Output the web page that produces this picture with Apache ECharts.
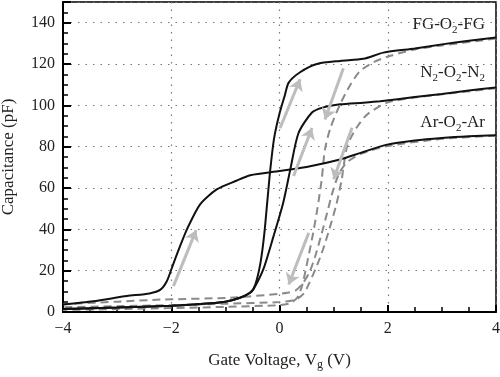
<!DOCTYPE html>
<html>
<head>
<meta charset="utf-8">
<script src="https://cdn.jsdelivr.net/npm/echarts@6/dist/echarts.min.js"></script>
<style>
  html, body { margin: 0; padding: 0; background: #fff; }
  #chart { width: 500px; height: 377px; }
</style>
</head>
<body>
<div id="chart"></div>
<script>
// forward sweeps (black, solid)
const fgUp = [[-4, 1.5], [-3, 2.2], [-2, 3], [-1.6, 3.6], [-1, 5], [-0.73, 6.9], [-0.54, 9.4], [-0.45, 13],
  [-0.35, 24], [-0.28, 38], [-0.22, 55], [-0.17, 69], [-0.1, 84], [0, 96], [0.1, 105], [0.17, 111],
  [0.38, 116], [0.69, 120], [1.12, 121.5], [1.55, 122.5], [1.92, 125.5], [2.5, 127.5], [3, 129.5],
  [3.5, 131.3], [4, 132.8]]
const n2Up = [[-4, 1.5], [-3, 2.2], [-2, 3], [-1.6, 3.6], [-1, 5], [-0.73, 6.9], [-0.54, 9.4], [-0.48, 11],
  [-0.3, 20.6], [-0.11, 36.7], [0.07, 53], [0.2, 69], [0.35, 86.5], [0.6, 96.5], [0.81, 99],
  [1.12, 100.5], [1.55, 101.3], [1.86, 102], [2.5, 104], [3, 105.5], [3.5, 107.2], [4, 108.6]]
const arUp = [[-4, 3.6], [-3.44, 5.2], [-2.82, 7.7], [-2.4, 9], [-2.2, 10.8], [-2.08, 15], [-1.98, 22],
  [-1.85, 31], [-1.71, 40], [-1.47, 52], [-1.16, 59.3], [-0.8, 63.5], [-0.54, 66.2], [0, 68.2],
  [0.5, 70.2], [1.12, 73.8], [1.5, 77], [1.99, 81], [2.5, 83], [3, 84.2], [3.5, 85], [4, 85.5]]

// reverse sweeps (grey, dashed)
const fgDown = [[4, 132.3], [3, 129], [2.5, 127], [2.05, 124], [1.75, 121], [1.49, 116.6], [1.31, 110],
  [1.12, 100.5], [0.94, 89], [0.84, 78.7], [0.78, 64.2], [0.7, 50], [0.62, 38], [0.52, 25],
  [0.42, 13], [0.33, 7], [0.2, 4.3], [0, 3.3], [-1, 2.5], [-2, 1.9], [-3, 1.4], [-4, 1]]
const n2Down = [[4, 108.3], [3, 105.3], [2.5, 103.8], [1.99, 101.3], [1.62, 95.6], [1.42, 89], [1.25, 80.3],
  [1.15, 64.2], [1.05, 52], [0.92, 40], [0.8, 30], [0.7, 23], [0.55, 14], [0.45, 9], [0.3, 6],
  [0, 4.8], [-1, 4], [-2, 3.3], [-3, 2.8], [-4, 2.3]]
const arDown = [[4, 85.3], [3, 83.8], [2, 80.3], [1.5, 76.5], [1.25, 72.5], [1.1, 67], [0.98, 58],
  [0.88, 48], [0.78, 38], [0.66, 27], [0.55, 19], [0.42, 13.5], [0.3, 10.5], [0.14, 9.3],
  [0, 8.8], [-0.91, 6.9], [-2.2, 6], [-3, 5], [-4, 3.8]]

// arrows: [x0, y0, x1, y1]
const arrows = [[-1.96, 12.5, -1.54, 39.6], [0.01, 89, 0.38, 112.6], [0.26, 65.8, 0.6, 89],
  [1.18, 118, 0.84, 93.2], [1.34, 89.2, 1.0, 64.2], [0.54, 38.3, 0.17, 13.3]]

const xTicks = [-4, -2, 0, 2, 4]
const yTicks = [0, 20, 40, 60, 80, 100, 120, 140]

const serif = 'Liberation Serif, DejaVu Serif, serif'
const chart = echarts.init(document.getElementById('chart'))

const upLine = (name, data) => ({
  name, type: 'line', data, showSymbol: false, smooth: 0.25,
  lineStyle: { color: '#111', width: 2 }, z: 3,
})
const downLine = (name, data) => ({
  name, type: 'line', data, showSymbol: false, smooth: 0.25,
  lineStyle: { color: '#8a8a8a', width: 2, type: [8, 5] }, z: 2,
})

const sub = {
  n: { fontFamily: serif, fontSize: 17, color: '#222', lineHeight: 20, verticalAlign: 'top' },
  s: { fontFamily: serif, fontSize: 11, color: '#222', lineHeight: 11, verticalAlign: 'bottom' },
}

const label = (text, top) => ({
  type: 'text', right: 15, top,
  style: { text, rich: sub, fill: '#222' },
})

chart.setOption({
  animation: false,
  grid: {
    left: 63, right: 4, top: 2, bottom: 65, outerBoundsMode: 'none',
    show: true, borderColor: '#000', borderWidth: 1.5,
  },
  xAxis: {
    type: 'value', min: xTicks[0], max: xTicks[xTicks.length - 1], interval: 2,
    axisLine: { onZero: false, lineStyle: { color: '#000', width: 2 } },
    axisTick: { inside: true, length: 7, lineStyle: { color: '#000', width: 2 } },
    minorTick: { show: true, splitNumber: 4, length: 5, lineStyle: { color: '#000', width: 1.5 } },
    axisLabel: {
      fontFamily: serif, fontSize: 16, color: '#222', margin: 9,
      formatter: (v) => String(v).replace('-', '\u2212'),
    },
    splitLine: { lineStyle: { color: '#777', type: [1.5, 6], width: 1.2 } },
    name: 'Gate Voltage, V{s|g} (V)', nameLocation: 'middle', nameGap: 38,
    nameTextStyle: {
      fontFamily: serif, fontSize: 17, color: '#222',
      rich: { s: { fontFamily: serif, fontSize: 12, color: '#222', padding: [9, 0, 0, 0] } },
    },
  },
  yAxis: [
    {
      type: 'value', min: 0, max: 150, interval: 20,
      axisLine: { show: true, onZero: false, lineStyle: { color: '#000', width: 2 } },
      axisTick: { show: true, inside: true, length: 8, lineStyle: { color: '#000', width: 2 } },
      axisLabel: {
        fontFamily: serif, fontSize: 16, color: '#222', margin: 8,
        formatter: (v) => (yTicks.includes(v) ? String(v) : ''),
      },
      splitLine: { lineStyle: { color: '#777', type: [1.5, 6], width: 1.2 } },
      name: 'Capacitance (pF)', nameLocation: 'middle', nameGap: 46,
      nameTextStyle: { fontFamily: serif, fontSize: 17, color: '#222' },
    },
    {
      type: 'value', min: 0, max: 150, interval: 5, position: 'left',
      axisLine: { show: false, onZero: false },
      axisTick: { show: true, inside: true, length: 5, lineStyle: { color: '#000', width: 1.5 } },
      axisLabel: { show: false },
      splitLine: { show: false },
    },
  ],
  graphic: [
    label('{n|FG-O}{s|2}{n|-FG}', 16),
    label('{n|N}{s|2}{n|-O}{s|2}{n|-N}{s|2}', 64),
    label('{n|Ar-O}{s|2}{n|-Ar}', 114),
  ],
  series: [
    downLine('FG down', fgDown),
    downLine('N2 down', n2Down),
    downLine('Ar down', arDown),
    upLine('FG up', fgUp),
    upLine('N2 up', n2Up),
    upLine('Ar up', arUp),
    {
      type: 'lines', coordinateSystem: 'cartesian2d', z: 4,
      symbol: ['none', 'arrow'], symbolSize: 11,
      lineStyle: { color: '#bdbdbd', width: 3, opacity: 1 },
      data: arrows.map((a) => ({ coords: [[a[0], a[1]], [a[2], a[3]]] })),
    },
  ],
})
</script>
</body>
</html>
